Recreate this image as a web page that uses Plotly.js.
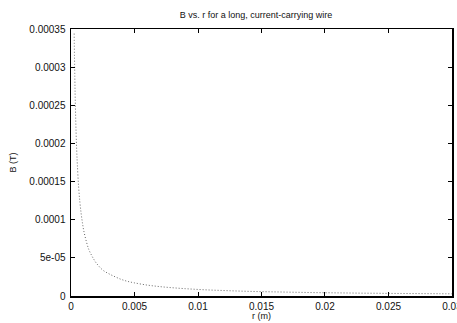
<!DOCTYPE html>
<html>
<head>
<meta charset="utf-8">
<script src="https://cdn.plot.ly/plotly-3.0.1.min.js"></script>
<style>html,body{margin:0;padding:0;background:#fff;}#chart{width:457px;height:323px;}</style>
</head>
<body>
<div id="chart"></div>
<script>
// Distance from wire r (m)
const rValues = [0.00025, 0.0003, 0.00035, 0.0004, 0.00045, 0.0005, 0.0006, 0.0007, 0.0008, 0.0009, 0.001,
  0.0012, 0.0014, 0.0016, 0.0018, 0.002, 0.0025, 0.003, 0.0035, 0.004, 0.0045, 0.005, 0.006, 0.007, 0.008,
  0.009, 0.01, 0.011, 0.012, 0.013, 0.014, 0.015, 0.016, 0.017, 0.018, 0.019, 0.02, 0.021, 0.022, 0.023,
  0.024, 0.025, 0.026, 0.027, 0.028, 0.029, 0.03];
// Magnetic field B (T)
const bValues = [3.44e-4, 2.87e-4, 2.46e-4, 2.15e-4, 1.91e-4, 1.72e-4, 1.43e-4, 1.23e-4, 1.08e-4, 9.6e-5, 8.6e-5,
  7.2e-5, 6.1e-5, 5.4e-5, 4.8e-5, 4.3e-5, 3.4e-5, 2.9e-5, 2.5e-5, 2.15e-5, 1.9e-5, 1.72e-5, 1.43e-5, 1.23e-5, 1.08e-5,
  9.6e-6, 8.6e-6, 7.8e-6, 7.2e-6, 6.6e-6, 6.1e-6, 5.7e-6, 5.4e-6, 5.1e-6, 4.8e-6, 4.5e-6, 4.3e-6, 4.1e-6, 3.9e-6, 3.7e-6,
  3.6e-6, 3.4e-6, 3.3e-6, 3.2e-6, 3.1e-6, 3.0e-6, 2.9e-6];
const xTickVals = [0, 0.005, 0.01, 0.015, 0.02, 0.025, 0.03];
const xTickText = ["0", "0.005", "0.01", "0.015", "0.02", "0.025", "0.03"];
const yTickVals = [0, 0.00005, 0.0001, 0.00015, 0.0002, 0.00025, 0.0003, 0.00035];
const yTickText = ["0", "5e-05", "0.0001", "0.00015", "0.0002", "0.00025", "0.0003", "0.00035"];

const font = {family: "Liberation Sans, Arial, sans-serif", size: 9, color: "#111"};
const tickFont = {family: "Liberation Sans, Arial, sans-serif", size: 10, color: "#111"};
const trace = {
  x: rValues, y: bValues, type: "scatter", mode: "lines",
  line: {color: "#666", width: 1, dash: "1px,2px", shape: "spline"},
  hoverinfo: "none", showlegend: false
};
const axisCommon = {
  showline: true, linecolor: "#000", linewidth: 1.5, mirror: "ticks",
  ticks: "inside", ticklen: 4, tickcolor: "#000", tickwidth: 1,
  showgrid: false, zeroline: false, tickfont: tickFont, tickmode: "array",
  ticklabeloverflow: "allow", automargin: false
};
const layout = {
  width: 457, height: 323,
  margin: {l: 71, r: 5, t: 29, b: 27},
  paper_bgcolor: "#fff", plot_bgcolor: "#fff",
  font: font,
  title: {text: "B vs. r for a long, current-carrying wire", font: font, x: 0.56, xanchor: "center", y: 0.955, yanchor: "middle"},
  xaxis: Object.assign({}, axisCommon, {range: [0, 0.030001], tickvals: xTickVals, ticktext: xTickText,
    title: {text: "r (m)", font: font, standoff: 0}}),
  yaxis: Object.assign({}, axisCommon, {range: [0, 0.00035001], tickvals: yTickVals, ticktext: yTickText,
    ticklabelstandoff: 2, title: {text: "B (T)", font: font, standoff: 11}})
};
Plotly.newPlot("chart", [trace], layout, {staticPlot: true, displayModeBar: false});
</script>
</body>
</html>
